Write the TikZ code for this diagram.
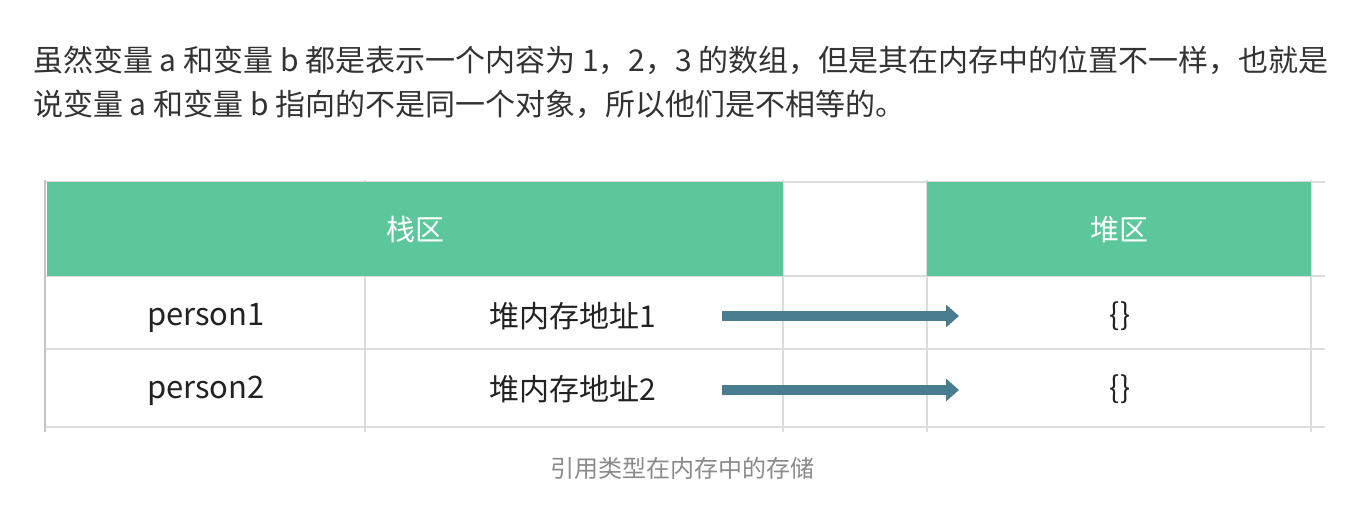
\documentclass[tikz,border=0pt]{standalone}
\usepackage{fontspec}
\setmainfont{Noto Sans CJK SC}
\usetikzlibrary{arrows.meta}
\definecolor{hdr}{HTML}{5CC79B}
\definecolor{arr}{HTML}{487D8F}
\definecolor{gridc}{HTML}{DCDCDC}
\definecolor{edgec}{HTML}{C8C2C8}
\definecolor{bodyc}{HTML}{333333}
\definecolor{capc}{HTML}{8A8A8A}
\definecolor{cellc}{HTML}{222222}
\tikzset{
  para/.style={anchor=west, inner sep=0pt, text=bodyc, font=\fontsize{30}{36}\selectfont},
  hdrbox/.style={fill=hdr, text=white, inner sep=0pt, anchor=north west, font=\fontsize{29}{34}\selectfont},
  celltext/.style={inner sep=0pt, text=cellc, font=\fontsize{30}{36}\selectfont},
  nametext/.style={inner sep=0pt, text=cellc, font=\fontsize{31}{36}\selectfont},
  gridline/.style={draw=gridc, line width=1.5pt},
  ptr/.style={draw=arr, line width=10pt, -{Triangle[length=13pt, width=22pt]}},
  captext/.style={inner sep=0pt, text=capc, font=\fontsize{24}{28}\selectfont},
}
\begin{document}
\begin{tikzpicture}[x=1pt,y=-1pt]
\useasboundingbox[fill=white] (0,0) rectangle (1362,516);
% paragraph
\node[para] (l1) at (33,60) {虽然变量 a 和变量 b 都是表示一个内容为 1，2，3 的数组，但是其在内存中的位置不一样，也就是};
\node[para] (l2) at (33,104) {说变量 a 和变量 b 指向的不是同一个对象，所以他们是不相等的。};
% grid
\foreach \yy in {182,276,349,427} \draw[gridline] (45,\yy) -- (1325,\yy);
\foreach \xx in {365,783,927,1311} \draw[gridline] (\xx,180) -- (\xx,432);
\draw[draw=edgec, line width=2pt] (45,180) -- (45,432);
% headers
\node[hdrbox, minimum width=736pt, minimum height=94pt] (stack) at (47,182) {栈区};
\node[hdrbox, minimum width=384pt, minimum height=94pt] (heap) at (927,182) {堆区};
% cells
\node[nametext] (p1) at (206,318) {person1};
\node[nametext] (p2) at (206,391) {person2};
\node[celltext] (a1) at (573,316) {堆内存地址1};
\node[celltext] (a2) at (573,389) {堆内存地址2};
\node[celltext] (o1) at (1120,316) {\{\}};
\node[celltext] (o2) at (1120,389) {\{\}};
% pointers
\coordinate (s1) at (722,316);
\coordinate (e1) at (959,316);
\coordinate (s2) at (722,390);
\coordinate (e2) at (959,390);
\draw[ptr] (s1) -- (e1);
\draw[ptr] (s2) -- (e2);
% caption
\node[captext] (cap) at (682,468) {引用类型在内存中的存储};
\end{tikzpicture}
\end{document}
